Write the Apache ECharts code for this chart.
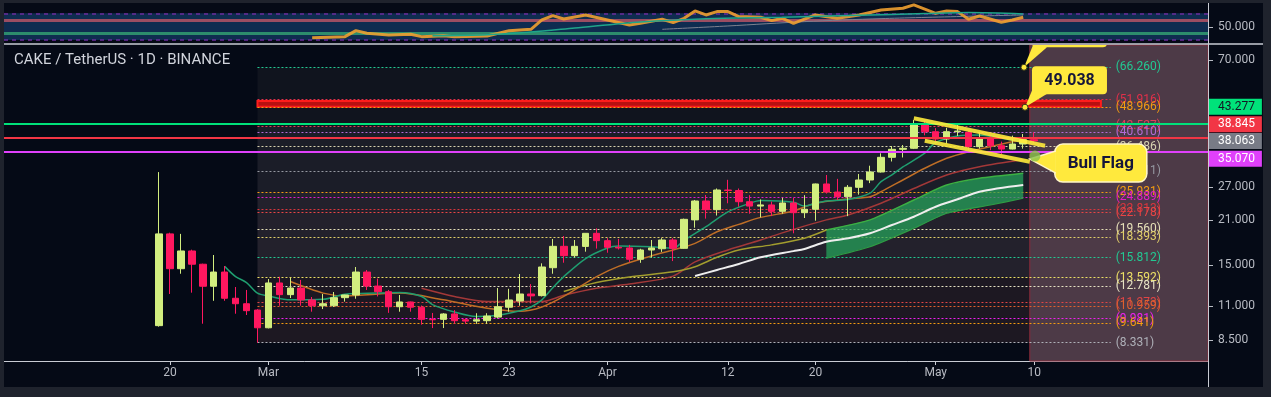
<!DOCTYPE html>
<html>
<head>
<meta charset="utf-8">
<title>CAKE / TetherUS 1D</title>
<script src="https://cdn.jsdelivr.net/npm/echarts@6.0.0/dist/echarts.min.js"></script>
<style>
html, body { margin: 0; padding: 0; background: #1f232d; }
#chart { width: 1271px; height: 397px; }
</style>
</head>
<body>
<div id="chart"></div>
<script>
// day 0 = 2021-02-19, one candle per day up to 2021-05-10
var opens = [9.47, 18.9, 14.54, 16.62, 15.04, 12.74, 14.18, 11.64, 11.17, 10.65,
    9.32, 13.06, 11.96, 12.57, 11.49, 11.0, 11.0, 11.69, 11.93, 14.18,
    12.76, 12.23, 10.92, 11.32, 10.88, 9.93, 9.93, 10.34, 9.9, 9.8,
    9.83, 10.1, 10.88, 11.4, 12.02, 11.87, 14.65, 17.21, 16.04, 17.2,
    18.98, 17.96, 17.09, 17.0, 15.61, 16.74, 16.9, 18.05, 16.95, 21.0,
    24.21, 22.68, 26.3, 26.2, 24.08, 23.3, 23.5, 22.4, 23.85, 22.17,
    22.75, 27.52, 25.9, 25.0, 26.84, 28.36, 30.12, 33.64, 35.73, 36.0,
    42.9, 40.79, 38.61, 40.8, 40.6, 36.44, 38.82, 36.72, 35.8, 37.18, 38.4];
var closes = [18.9, 14.54, 16.62, 15.04, 12.74, 14.18, 11.64, 11.17, 10.6, 9.32,
    13.06, 11.96, 12.57, 11.49, 11.0, 11.17, 11.69, 11.93, 14.18, 12.76,
    12.23, 10.92, 11.32, 10.88, 9.93, 9.9, 10.34, 9.83, 9.8, 9.9,
    10.18, 10.92, 11.49, 12.02, 11.85, 14.73, 17.21, 16.04, 17.21, 18.98,
    17.96, 17.09, 17.0, 15.61, 16.74, 17.0, 18.05, 16.95, 21.09, 24.21,
    22.68, 26.3, 26.2, 24.08, 23.3, 23.5, 22.4, 23.85, 22.17, 22.75,
    27.52, 25.9, 25.0, 26.84, 28.36, 30.12, 33.64, 35.73, 36.0, 42.9,
    40.79, 38.61, 40.8, 41.0, 36.44, 38.82, 36.72, 35.8, 37.18, 38.4, 38.063];
var lows = [9.4, 12.02, 14.0, 12.14, 9.61, 11.42, 11.42, 10.36, 10.26, 8.33,
    9.28, 11.0, 11.66, 11.0, 10.52, 10.73, 10.9, 11.35, 11.6, 12.39,
    11.8, 10.43, 10.52, 10.52, 9.54, 9.3, 9.3, 9.6, 9.6, 9.6,
    9.6, 10.0, 10.52, 11.0, 11.2, 11.8, 14.0, 15.21, 15.8, 16.53,
    16.92, 16.4, 16.8, 15.3, 15.2, 15.8, 16.5, 15.4, 16.9, 19.8,
    21.2, 21.7, 23.8, 23.2, 22.0, 21.4, 21.6, 22.0, 18.98, 21.3,
    20.87, 25.6, 24.4, 21.6, 25.4, 27.7, 30.0, 32.6, 33.6, 35.8,
    39.7, 37.85, 37.3, 39.5, 35.5, 35.9, 35.5, 34.5, 35.7, 35.9, 37.4];
var highs = [30.1, 19.07, 18.9, 16.78, 15.1, 16.12, 14.84, 12.67, 12.39, 10.72,
    13.45, 13.69, 13.56, 13.36, 11.75, 12.02, 12.2, 11.95, 14.73, 14.4,
    13.5, 12.39, 11.93, 11.35, 11.02, 10.42, 10.4, 10.65, 10.0, 10.4,
    10.4, 12.57, 12.5, 13.97, 12.95, 15.14, 18.19, 18.6, 18.05, 19.0,
    19.71, 18.3, 18.2, 17.4, 16.9, 18.05, 18.3, 18.3, 21.2, 24.4,
    25.33, 26.6, 28.4, 26.6, 25.3, 24.5, 24.1, 24.8, 24.8, 25.3,
    27.6, 29.45, 28.6, 27.3, 29.68, 31.58, 34.67, 36.63, 36.9, 44.55,
    44.3, 41.9, 42.0, 42.9, 41.0, 40.6, 39.6, 37.85, 39.6, 40.1, 40.6];

var tickDays = [1, 10, 24, 32, 41, 52, 60, 71, 80];
var tickLabels = ['20', 'Mar', '15', '23', 'Apr', '12', '20', 'May', '10'];
var priceTicks = [8.5, 11, 15, 21, 27, 70];
var rsiTicks = [50];

// moving averages, [day, price]
var maTeal = [[6, 14.8], [7, 13.7], [8, 13.1], [9, 12.1], [10, 11.85], [12, 11.5], [15, 11.55], [17, 12.0],
    [20, 12.1], [22, 12.15], [24, 11.8], [25, 11.1], [27, 10.5], [29, 10.15], [31, 10.25], [33, 10.6],
    [34, 10.9], [35, 11.5], [36, 12.6], [37, 13.7], [39, 15.7], [41, 17.0], [42, 17.25], [45, 17.15],
    [47, 16.95], [48, 18.0], [50, 19.95], [52, 22.3], [54, 23.8], [55, 24.3], [58, 24.0], [59, 23.3],
    [60, 23.8], [61, 24.2], [63, 24.5], [65, 25.7], [66, 28.0], [67, 29.5], [68, 31.3], [70, 34.7],
    [71, 37.6], [73, 39.5], [75, 39.8], [77, 38.8], [79, 37.8]];
var maOrange = [[12, 13.2], [15, 12.1], [17, 11.85], [22, 12.1], [26, 11.5], [30, 10.8], [33, 10.55],
    [35, 10.9], [37, 11.8], [40, 13.7], [42, 14.8], [45, 16.0], [47, 16.75], [49, 17.6], [51, 19.2],
    [53, 20.3], [55, 21.4], [58, 22.45], [60, 23.8], [63, 24.6], [65, 25.0], [66, 25.97], [68, 28.36],
    [70, 30.97], [72, 33.39], [74, 35.09], [76, 36.44], [78, 37.84], [79, 38.2]];
var maRed = [[24, 12.55], [27, 11.8], [30, 11.35], [35, 11.35], [37, 11.9], [40, 12.55], [43, 12.95],
    [47, 13.75], [49, 15.3], [52, 16.75], [55, 18.05], [58, 19.55], [61, 21.0], [63, 21.8], [66, 23.8],
    [69, 26.6], [72, 29.45], [75, 31.35], [79, 33.0]];
var maOlive = [[37, 12.25], [40, 13.1], [43, 13.65], [47, 14.2], [49, 14.75], [51, 15.85], [53, 16.75],
    [56, 17.4], [59, 18.3], [61, 19.46]];
var maWhite = [[49, 13.76], [51, 14.4], [53, 15.07], [55, 15.84], [58, 16.6], [59, 16.87], [61, 17.82],
    [63, 18.28], [65, 18.98], [67, 20.2], [69, 21.51], [71, 23.19], [73, 24.52], [75, 25.97], [79, 27.31]];
var cloudUpper = [[61, 19.46], [65, 21.0], [69, 24.39], [72, 27.31], [75, 28.73], [79, 29.83]];
var cloudLower = [[61, 15.73], [65, 17.16], [69, 19.71], [72, 22.07], [76, 23.49], [79, 24.71]];

// RSI pane, [day, value]
var rsiLine = [[14, 33.5], [17, 35], [18, 44], [19, 40], [21, 37.5], [23, 38.5], [24, 35], [26, 36.5],
    [27, 35], [30, 36], [32, 44], [34, 46], [35, 60], [36, 66.5], [37, 61.5], [39, 67.5], [41, 60],
    [43, 52.5], [44, 55], [46, 61], [47, 56], [48, 62.5], [49, 73.5], [50, 67.5], [51, 72.5], [52, 72.5],
    [53, 65], [55, 64], [56, 59], [57, 62.5], [58, 55], [60, 67.5], [62, 62.5], [64, 67.5], [66, 75],
    [68, 77.5], [69, 82.5], [71, 70], [72, 73.5], [73, 72.5], [74, 61], [75, 66], [77, 56.5], [78, 60], [79, 64]];
var rsiSignal = [[25, 36.5], [30, 38], [34, 42], [38, 48], [44, 57], [50, 62], [57, 64], [64, 67],
    [70, 69.5], [74, 71], [79, 69]];
var rsiSlow = [[46, 46], [52, 51], [59, 57.5], [66, 62], [79, 67.5]];
var rsiBands = [30, 70];
var rsiLevels = [40, 60];

// drawings
var fibLevels = [66.260, 51.916, 48.966, 42.527, 40.610, 36.486, 30.311, 25.931, 24.889, 22.813, 22.178,
    19.560, 18.393, 15.812, 13.592, 12.781, 11.273, 10.959, 9.981, 9.641, 8.331];
var fibFromDay = 9;
var fibToDay = 87;
var hLevels = [43.277, 38.845, 35.070];
var lastPrice = 38.063;
var resistanceBox = [9, 86.1, 49.26, 51.4];
var projectionFromDay = 79.6;
var flagUpper = [[69, 45.13], [81, 36.71]];
var flagLower = [[70, 38.12], [79.6, 32.55]];
var flagDot = [80.07, 33.97];
var noteDays = [79.07, 79.16, 79.6];
var notePrices = [66.26, 49.038, 33.2];
var noteTexts = ['66.260', '49.038', 'Bull Flag'];

var FONT = 'Roboto, sans-serif';
var BG = '#050a16';
var FRAME = '#1f232d';
var AXIS_TEXT = '#b8bbc3';
var AXIS_LINE = '#c9ccd4';
var xMin = -14.17, xMax = 95.89;
var fibColors = ['#22c993', '#e0304a', '#f39c12', '#e0405a', '#b36ad6', '#d8d3b0', '#9598a1', '#f39c12',
    '#e01ec8', '#d9363e', '#e84545', '#e6e0b8', '#e2d06a', '#22c993', '#ede065', '#e6e2c4', '#e04545',
    '#e0602e', '#f020f0', '#f39c12', '#aeb0b8'];
var hColors = ['#00e27a', '#f23645', '#e040fb'];
var hTextColors = ['#131722', '#ffffff', '#ffffff'];
var boxShift = [-17, -14, 7];
var noteShapes = [
    { box: [8, -47, 75, 27], r: 4, tail: [[0, 0], [9, -22], [23, -20]], font: 'bold 16px ' + FONT, dot: true },
    { box: [7, -41, 75, 28], r: 4, tail: [[0, 0], [8, -19], [23, -14]], font: 'bold 16px ' + FONT, dot: true },
    { box: [25, -15, 92, 38], r: 8, tail: [[0, 0], [26, -8], [26, 14]], font: 'bold 17px ' + FONT, stroke: '#fff6c8' }
];

function candleRows() {
    var rows = [];
    for (var i = 0; i < opens.length; i++) {
        rows.push([i, opens[i], closes[i], lows[i], highs[i]]);
    }
    return rows;
}

function fibLines() {
    var items = [];
    for (var i = 0; i < fibLevels.length; i++) {
        items.push([{
            coord: [fibFromDay, fibLevels[i]],
            lineStyle: { color: fibColors[i], width: 1, type: [2, 2] },
            label: {
                show: true, position: 'end', distance: 5, color: fibColors[i],
                fontSize: 12, fontFamily: FONT, formatter: '(' + fibLevels[i].toFixed(3) + ')'
            }
        }, { coord: [fibToDay, fibLevels[i]] }]);
    }
    return items;
}

function fibAreas() {
    var bands = [[0, 3, '#10141e'], [3, 7, '#1b1d28'], [7, 14, '#23212c'], [14, 20, '#1d1822']];
    var items = [];
    for (var i = 0; i < bands.length; i++) {
        items.push([{ coord: [fibFromDay, fibLevels[bands[i][0]]], itemStyle: { color: bands[i][2] } },
            { coord: [fibToDay, fibLevels[bands[i][1]]] }]);
    }
    items.push([{ xAxis: projectionFromDay, itemStyle: { color: '#4d3a47', borderColor: '#8a2a3a', borderWidth: 1 } },
        { xAxis: xMax }]);
    items.push([{ coord: [resistanceBox[0], resistanceBox[2]], itemStyle: { color: '#b81010', borderColor: '#ff1c1c', borderWidth: 2 } },
        { coord: [resistanceBox[1], resistanceBox[3]] }]);
    return items;
}

function priceBoxes() {
    var items = [];
    var boxLabel = function (value, color, bg, shift) {
        return {
            show: true, position: 'end', distance: 1, offset: [0, shift],
            formatter: value.toFixed(3), color: color, backgroundColor: bg,
            fontSize: 12, fontFamily: FONT, lineHeight: 14, padding: [1, 7, 1, 9]
        };
    };
    for (var i = 0; i < hLevels.length; i++) {
        items.push({
            yAxis: hLevels[i],
            lineStyle: { color: hColors[i], width: 2, type: 'solid' },
            label: boxLabel(hLevels[i], hTextColors[i], hColors[i], boxShift[i])
        });
    }
    items.push({
        yAxis: lastPrice,
        lineStyle: { color: 'rgba(0,0,0,0)', width: 1, type: 'solid' },
        label: boxLabel(lastPrice, '#ffffff', '#787b86', 0)
    });
    return items;
}

function renderCloud(params, api) {
    var top = [], bottom = [];
    var i;
    for (i = 0; i < cloudUpper.length; i++) {
        top.push(api.coord(cloudUpper[i]));
    }
    for (i = 0; i < cloudLower.length; i++) {
        bottom.push(api.coord(cloudLower[i]));
    }
    var pts = top.concat(bottom.slice().reverse());
    return {
        type: 'group',
        children: [
            { type: 'polygon', shape: { points: pts }, style: { fill: 'rgba(38,166,91,0.72)' } },
            { type: 'polyline', shape: { points: top, smooth: 0.2 }, style: { stroke: '#3cb043', lineWidth: 1.5, fill: null } },
            { type: 'polyline', shape: { points: bottom, smooth: 0.2 }, style: { stroke: '#2e9c45', lineWidth: 1.2, fill: null } }
        ]
    };
}

function renderNote(params, api) {
    var s = noteShapes[params.dataIndex];
    var p = api.coord([api.value(0), api.value(1)]);
    var b = s.box;
    var tail = [];
    for (var i = 0; i < s.tail.length; i++) {
        tail.push([p[0] + s.tail[i][0], p[1] + s.tail[i][1]]);
    }
    var children = [
        {
            type: 'rect',
            shape: { x: p[0] + b[0], y: p[1] + b[1], width: b[2], height: b[3], r: s.r },
            style: { fill: '#ffe93d', stroke: s.stroke || null, lineWidth: s.stroke ? 1.5 : 0 }
        },
        { type: 'polygon', shape: { points: tail }, style: { fill: '#ffe93d' } }
    ];
    if (s.stroke) {
        children.push({ type: 'polyline', shape: { points: [tail[1], tail[0], tail[2]] }, style: { stroke: s.stroke, lineWidth: 1.5, fill: null } });
    }
    children.push({
        type: 'text',
        style: {
            x: p[0] + b[0] + b[2] / 2, y: p[1] + b[1] + b[3] / 2 + 1,
            text: noteTexts[params.dataIndex], font: s.font, fill: '#15163a',
            align: 'center', verticalAlign: 'middle'
        }
    });
    if (s.dot) {
        children.push({ type: 'circle', shape: { cx: p[0], cy: p[1], r: 3 }, style: { fill: '#ffe93d', stroke: '#3a3a1a', lineWidth: 1 } });
    }
    return { type: 'group', children: children };
}

function maSeries(data, color, width) {
    return {
        type: 'line', xAxisIndex: 0, yAxisIndex: 0, data: data, showSymbol: false, silent: true,
        smooth: 0.3, z: 3, lineStyle: { color: color, width: width }
    };
}

var chart = echarts.init(document.getElementById('chart'));
chart.setOption({
    animation: false,
    backgroundColor: BG,
    textStyle: { fontFamily: FONT },
    title: {
        text: 'CAKE / TetherUS \u00b7 1D \u00b7 BINANCE', left: 14, top: 53, padding: 0,
        textStyle: { color: '#d1d4dc', fontSize: 15, fontWeight: 'normal', fontFamily: FONT }
    },
    grid: [
        { left: 4, right: 63, top: 45, bottom: 36, outerBoundsMode: 'none' },
        { left: 4, right: 63, top: 3, height: 41, outerBoundsMode: 'none' }
    ],
    xAxis: [{
        type: 'value', gridIndex: 0, min: xMin, max: xMax,
        splitLine: { show: false },
        axisLine: { show: true, lineStyle: { color: AXIS_LINE, width: 1 } },
        axisTick: { show: true, length: 4, customValues: tickDays, lineStyle: { color: AXIS_LINE } },
        axisLabel: {
            customValues: tickDays, margin: 6, color: AXIS_TEXT, fontSize: 12, fontFamily: FONT,
            formatter: function (v) {
                var i = tickDays.indexOf(Math.round(v));
                return i >= 0 ? tickLabels[i] : '';
            }
        }
    }, {
        type: 'value', gridIndex: 1, min: xMin, max: xMax, show: false
    }],
    yAxis: [{
        type: 'log', gridIndex: 0, position: 'right', min: 7.257, max: 78.37,
        splitLine: { show: false },
        axisLine: { show: false },
        axisTick: { show: false },
        axisLabel: {
            customValues: priceTicks, margin: 10, color: AXIS_TEXT, fontSize: 12, fontFamily: FONT,
            formatter: function (v) { return Number(v).toFixed(3); }
        }
    }, {
        type: 'value', gridIndex: 1, position: 'right', min: 24, max: 85.4,
        splitLine: { show: false },
        axisLine: { show: false },
        axisTick: { show: false },
        axisLabel: {
            customValues: rsiTicks, margin: 10, color: AXIS_TEXT, fontSize: 12, fontFamily: FONT,
            formatter: function (v) { return Number(v).toFixed(3); }
        }
    }],
    series: [
        {
            name: 'zones', type: 'line', xAxisIndex: 0, yAxisIndex: 0, data: [], silent: true,
            markArea: { z: 1, silent: true, label: { show: false }, data: fibAreas() }
        },
        {
            name: 'fib', type: 'line', xAxisIndex: 0, yAxisIndex: 0, data: [], silent: true,
            markLine: { z: 2, silent: true, symbol: ['none', 'none'], animation: false, data: fibLines() }
        },
        {
            name: 'cloud', type: 'custom', xAxisIndex: 0, yAxisIndex: 0, z: 2, silent: true,
            data: [cloudUpper[0]], renderItem: renderCloud
        },
        maSeries(maRed, '#a33838', 1.5),
        maSeries(maOlive, '#a29d2e', 1.5),
        maSeries(maOrange, '#bf6e26', 1.5),
        maSeries(maTeal, '#1f9e70', 1.5),
        maSeries(maWhite, '#eeeeee', 2),
        {
            name: 'CAKE', type: 'candlestick', xAxisIndex: 0, yAxisIndex: 0, z: 4, barWidth: 7,
            encode: { x: 0, y: [1, 2, 3, 4] },
            data: candleRows(),
            itemStyle: { color: '#d2ee7f', color0: '#ff175f', borderColor: '#d2ee7f', borderColor0: '#ff175f', borderWidth: 1 }
        },
        {
            name: 'levels', type: 'line', xAxisIndex: 0, yAxisIndex: 0, data: [], silent: true,
            markLine: { z: 6, silent: true, symbol: ['none', 'none'], animation: false, data: priceBoxes() }
        },
        {
            type: 'line', xAxisIndex: 0, yAxisIndex: 0, data: flagUpper, showSymbol: false, silent: true, z: 6,
            lineStyle: { color: '#ffeb3b', width: 4, opacity: 0.9, cap: 'butt' }
        },
        {
            type: 'line', xAxisIndex: 0, yAxisIndex: 0, data: flagLower, showSymbol: false, silent: true, z: 6,
            lineStyle: { color: '#ffeb3b', width: 4, opacity: 0.9, cap: 'butt' }
        },
        {
            name: 'notes', type: 'custom', xAxisIndex: 0, yAxisIndex: 0, z: 7, clip: true, silent: true,
            data: noteDays.map(function (d, i) { return [d, notePrices[i]]; }),
            renderItem: renderNote
        },
        {
            type: 'scatter', xAxisIndex: 0, yAxisIndex: 0, z: 8, silent: true, data: [flagDot],
            symbolSize: 11, itemStyle: { color: '#8bc34a' }
        },
        {
            name: 'rsiZones', type: 'line', xAxisIndex: 1, yAxisIndex: 1, data: [], silent: true,
            markArea: {
                z: 1, silent: true, label: { show: false },
                data: [[{ yAxis: rsiBands[0], itemStyle: { color: '#0f2c50' } }, { yAxis: rsiBands[1] }]]
            },
            markLine: {
                z: 2, silent: true, symbol: ['none', 'none'], label: { show: false }, animation: false,
                data: [
                    { yAxis: rsiBands[0], lineStyle: { color: '#6b2c9c', width: 1.5, type: [4, 4] } },
                    { yAxis: rsiBands[1], lineStyle: { color: '#6b2c9c', width: 1.5, type: [4, 4] } },
                    { yAxis: rsiLevels[0], lineStyle: { color: '#2d8c6c', width: 3, type: 'solid' } },
                    { yAxis: rsiLevels[1], lineStyle: { color: '#9b4d62', width: 3, type: 'solid' } }
                ]
            }
        },
        {
            type: 'line', xAxisIndex: 1, yAxisIndex: 1, data: rsiSlow, showSymbol: false, silent: true, z: 3,
            smooth: 0.3, lineStyle: { color: '#7c8190', width: 1 }
        },
        {
            type: 'line', xAxisIndex: 1, yAxisIndex: 1, data: rsiLine, showSymbol: false, silent: true, z: 3,
            lineStyle: { color: '#f0a030', width: 3, opacity: 0.9 }
        },
        {
            type: 'line', xAxisIndex: 1, yAxisIndex: 1, data: rsiSignal, showSymbol: false, silent: true, z: 4,
            smooth: 0.3, lineStyle: { color: '#1fa58a', width: 1.5 }
        }
    ]
});

// frame, pane separator, price scale line and its tick marks (placed through the axes)
function chromeGraphics() {
    var items = [
        { type: 'rect', z: 100, silent: true, shape: { x: 0, y: 0, width: 1271, height: 3 }, style: { fill: FRAME } },
        { type: 'rect', z: 100, silent: true, shape: { x: 0, y: 0, width: 4, height: 397 }, style: { fill: FRAME } },
        { type: 'rect', z: 100, silent: true, shape: { x: 1263, y: 0, width: 8, height: 397 }, style: { fill: FRAME } },
        { type: 'rect', z: 100, silent: true, shape: { x: 0, y: 387, width: 1271, height: 10 }, style: { fill: FRAME } },
        { type: 'line', z: 100, silent: true, shape: { x1: 4, y1: 44, x2: 1263, y2: 44 }, style: { stroke: AXIS_LINE, lineWidth: 1.5 } },
        { type: 'line', z: 100, silent: true, shape: { x1: 1208.5, y1: 3, x2: 1208.5, y2: 387 }, style: { stroke: AXIS_LINE, lineWidth: 1 } }
    ];
    var axisX = chart.convertToPixel({ xAxisIndex: 0 }, xMax);
    var addTick = function (y) {
        y = Math.round(y) + 0.5;
        items.push({ type: 'line', z: 100, silent: true, shape: { x1: axisX + 1, y1: y, x2: axisX + 5, y2: y }, style: { stroke: AXIS_TEXT, lineWidth: 1 } });
    };
    var i;
    for (i = 0; i < priceTicks.length; i++) {
        addTick(chart.convertToPixel({ yAxisIndex: 0 }, priceTicks[i]));
    }
    for (i = 0; i < rsiTicks.length; i++) {
        addTick(chart.convertToPixel({ yAxisIndex: 1 }, rsiTicks[i]));
    }
    return items;
}
chart.setOption({ graphic: chromeGraphics() });
</script>
</body>
</html>
